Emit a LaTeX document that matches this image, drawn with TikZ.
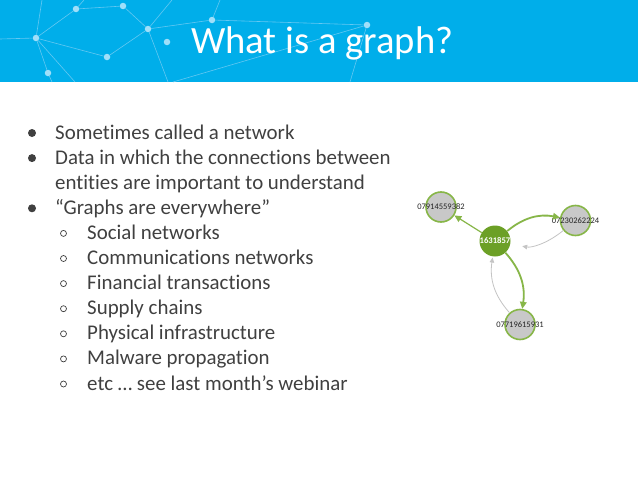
\documentclass[tikz,border=0pt]{standalone}
\usepackage{fontspec}
\setmainfont[Ligatures=NoCommon]{Carlito}
\usetikzlibrary{positioning,arrows.meta}

\definecolor{band}{RGB}{0,174,234}
\definecolor{lineblue}{RGB}{100,200,242}
\definecolor{dotblue}{RGB}{160,223,249}
\definecolor{bodytext}{RGB}{64,64,64}
\definecolor{hubgreen}{RGB}{108,160,38}
\definecolor{rimgreen}{RGB}{135,182,72}
\definecolor{phonegray}{RGB}{200,200,200}
\definecolor{backedge}{RGB}{196,196,196}

\tikzset{
  netdot/.style={circle, fill=dotblue, inner sep=0pt, minimum size=6.5pt},
  netline/.style={draw=lineblue, line width=0.6pt},
  itemtext/.style={anchor=base west, text=bodytext, inner sep=0pt, font=\fontsize{20.9}{24}\selectfont},
  bigdot/.style={circle, fill=bodytext, inner sep=0pt, minimum size=8pt},
  smalldot/.style={circle, draw=bodytext, line width=0.7pt, inner sep=0pt, minimum size=6pt},
  hub/.style={circle, fill=hubgreen, inner sep=0pt, minimum size=31pt, text=white, font=\fontsize{8.6}{9}\selectfont\bfseries},
  phone/.style={circle, fill=phonegray, draw=rimgreen, line width=1.6pt, inner sep=0pt, minimum size=30pt},
  phonelabel/.style={text=black!85, inner sep=0pt, font=\fontsize{8.5}{9}\selectfont},
  call/.style={draw=rimgreen, line width=1.8pt, -{Triangle[length=7pt,width=6.5pt]}},
  back/.style={draw=backedge, line width=0.8pt, -{Triangle[length=5pt,width=4.5pt]}}
}

\begin{document}
\begin{tikzpicture}[x=1pt,y=-1pt]
    \useasboundingbox (0,0) rectangle (638,479);
    \fill[white] (0,0) rectangle (638,479);
    \fill[band] (0,0) rectangle (638,82);

    % network in the banner
    \node[netdot] (a) at (36,38) {};
    \node[netdot] (b) at (76,9) {};
    \node[netdot] (c) at (123,6) {};
    \node[netdot] (d) at (148,29) {};
    \node[netdot] (e) at (167,42) {};
    \node[netdot] (f) at (107,57) {};
    \node[netdot] (g) at (48,73) {};
    \node[netdot] (h) at (212,20) {};
    \node[netdot] (i) at (367,25) {};
    \coordinate (l0) at (0,39);
    \coordinate (t0) at (42,0);
    \coordinate (t1) at (84,0);
    \coordinate (t2) at (172,0);
    \coordinate (t3) at (220,0);
    \coordinate (u0) at (75,82);
    \coordinate (u1) at (168,82);
    \coordinate (u2) at (173,82);
    \coordinate (u3) at (350,82);
    \coordinate (u4) at (52,82);

    \draw[netline] (l0) -- (a) -- (b) -- (c) -- (d) -- (f) -- (a);
    \draw[netline] (t0) -- (a) -- (u0);
    \draw[netline] (a) -- (g) -- (u4);
    \draw[netline] (t1) -- (b);
    \draw[netline] (t2) -- (d) -- (u1);
    \draw[netline] (d) -- (h) -- (i) -- (u3);
    \draw[netline] (t3) -- (h);
    \draw[netline] (u2) -- (i);

    \node[anchor=base west, inner sep=0pt, text=white, font=\fontsize{38.6}{42}\selectfont] (title) at (191,53) {What is a graph?};

    % the list
    \node[itemtext] (s1) at (55,139) {Sometimes called a network};
    \node[itemtext] (s2) at (55,164.1) {Data in which the connections between};
    \node[itemtext] (s3) at (55,189.2) {entities are important to understand};
    \node[itemtext] (s4) at (55,214.3) {“Graphs are everywhere”};
    \node[itemtext] (s5) at (87,239.4) {Social networks};
    \node[itemtext] (s6) at (87,264.5) {Communications networks};
    \node[itemtext] (s7) at (87,289.6) {Financial transactions};
    \node[itemtext] (s8) at (87,314.7) {Supply chains};
    \node[itemtext] (s9) at (87,339.8) {Physical infrastructure};
    \node[itemtext] (s10) at (87,364.9) {Malware propagation};
    \node[itemtext] (s11) at (87,390) {etc … see last month’s webinar};

    \node[bigdot] (d1) at (32,133) {};
    \node[bigdot] (d2) at (32,158.1) {};
    \node[bigdot] (d4) at (32,208.3) {};
    \node[smalldot] (o5) at (63.5,233.4) {};
    \node[smalldot] (o6) at (63.5,258.5) {};
    \node[smalldot] (o7) at (63.5,283.6) {};
    \node[smalldot] (o8) at (63.5,308.7) {};
    \node[smalldot] (o9) at (63.5,333.8) {};
    \node[smalldot] (o10) at (63.5,358.9) {};
    \node[smalldot] (o11) at (63.5,384) {};

    % the call graph
    \node[hub] (n1631857) at (495,241) {1631857};
    \node[phone, on grid, above left=34pt and 54pt of n1631857,
          label={[phonelabel]center:07914559382}] (n07914559382) {};
    \node[phone, on grid, above right=20.5pt and 80.5pt of n1631857,
          label={[phonelabel]center:07230262224}] (n07230262224) {};
    \node[phone, on grid, below right=83.5pt and 25pt of n1631857,
          label={[phonelabel]center:07719615931}] (n07719615931) {};

    \draw[call, line width=1.2pt] (n1631857) -- (n07914559382);
    \draw[call] (n1631857) to[bend left=25] (n07230262224);
    \draw[back, shorten >=12pt] (n07230262224) to[bend left=25] (n1631857);
    \draw[call] (n1631857) to[bend left=25] (n07719615931);
    \draw[back, shorten >=1pt] (n07719615931) to[bend left=25] (n1631857);

\end{tikzpicture}
\end{document}
